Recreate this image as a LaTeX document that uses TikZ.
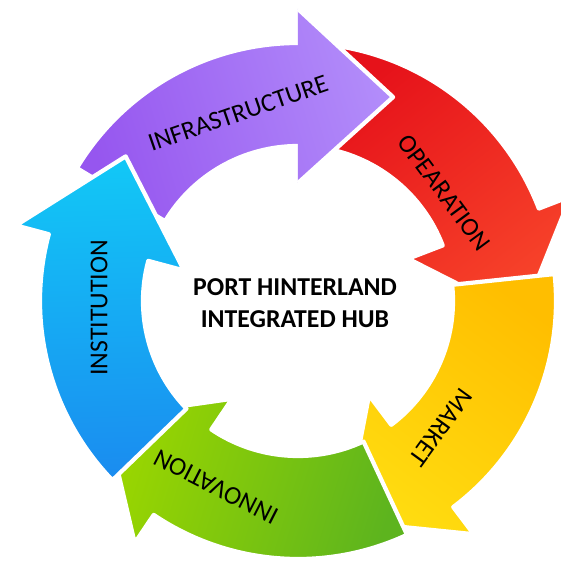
\documentclass[tikz,border=0pt]{standalone}
\usepackage{fontspec}
\setmainfont{Carlito}
\usetikzlibrary{positioning}
\definecolor{infraA}{HTML}{9656EF}
\definecolor{infraB}{HTML}{B28CFA}
\definecolor{operA}{HTML}{E6121A}
\definecolor{operB}{HTML}{F7432A}
\definecolor{markA}{HTML}{FFBE00}
\definecolor{markB}{HTML}{FFDC10}
\definecolor{innoA}{HTML}{5DB41E}
\definecolor{innoB}{HTML}{9AD600}
\definecolor{instA}{HTML}{1A8CF0}
\definecolor{instB}{HTML}{12C8F6}
% one bent arrow of the ring, #1 = angle of its tip
\newcommand{\ringarrow}[1]{({#1+84}:258) arc[start angle={#1+84}, end angle={#1+25}, radius=258]
  -- ({#1+25}:292) -- (#1:225) -- ({#1+25}:118) -- ({#1+25}:155)
  arc[start angle={#1+25}, end angle={#1+84}, radius=155] -- cycle}

\begin{document}
\begin{tikzpicture}[x=0.03cm, y=0.03cm,
    gap/.style={draw=white, line width=3.6pt, line join=round},
    lbl/.style={font=\fontsize{22}{26}\selectfont}]
  \useasboundingbox (-298,-259) rectangle (263,301);
  \foreach[count=\i] \t/\ca/\cb in {65/infraA/infraB,-4/operA/operB,-78/markA/markB,-149/innoA/innoB,140/instA/instB} {
    \pgfmathsetmacro{\sa}{\t+42}
    \path[gap, top color=\ca, bottom color=\cb, shading angle=\sa] \ringarrow{\t};
  }
  % head of the first arrow lies over the tail of the second
  \begin{scope}
    \clip (90:292) -- (65:225) -- (90:118) -- cycle;
    \path[top color=infraA, bottom color=infraB, shading angle=107] \ringarrow{65};
  \end{scope}
  \draw[gap] (90:292) -- (65:225) -- (90:118);
  \foreach \name/\a/\r/\rot/\txt in {infra/107.7/197/19/INFRASTRUCTURE,
      oper/36.5/182/-53.5/OPEARATION, mark/-41.6/191/-126/MARKET,
      inno/-113.8/203/153/INNOVATION, inst/182/199/90/INSTITUTION} {
    \node[lbl, rotate=\rot] (lbl-\name) at (\a:\r) {\txt};
  }
  \node[font=\bfseries\fontsize{22}{27}\selectfont, align=center] (hub) at (-3,-2) {PORT HINTERLAND\\INTEGRATED HUB};
\end{tikzpicture}
\end{document}
